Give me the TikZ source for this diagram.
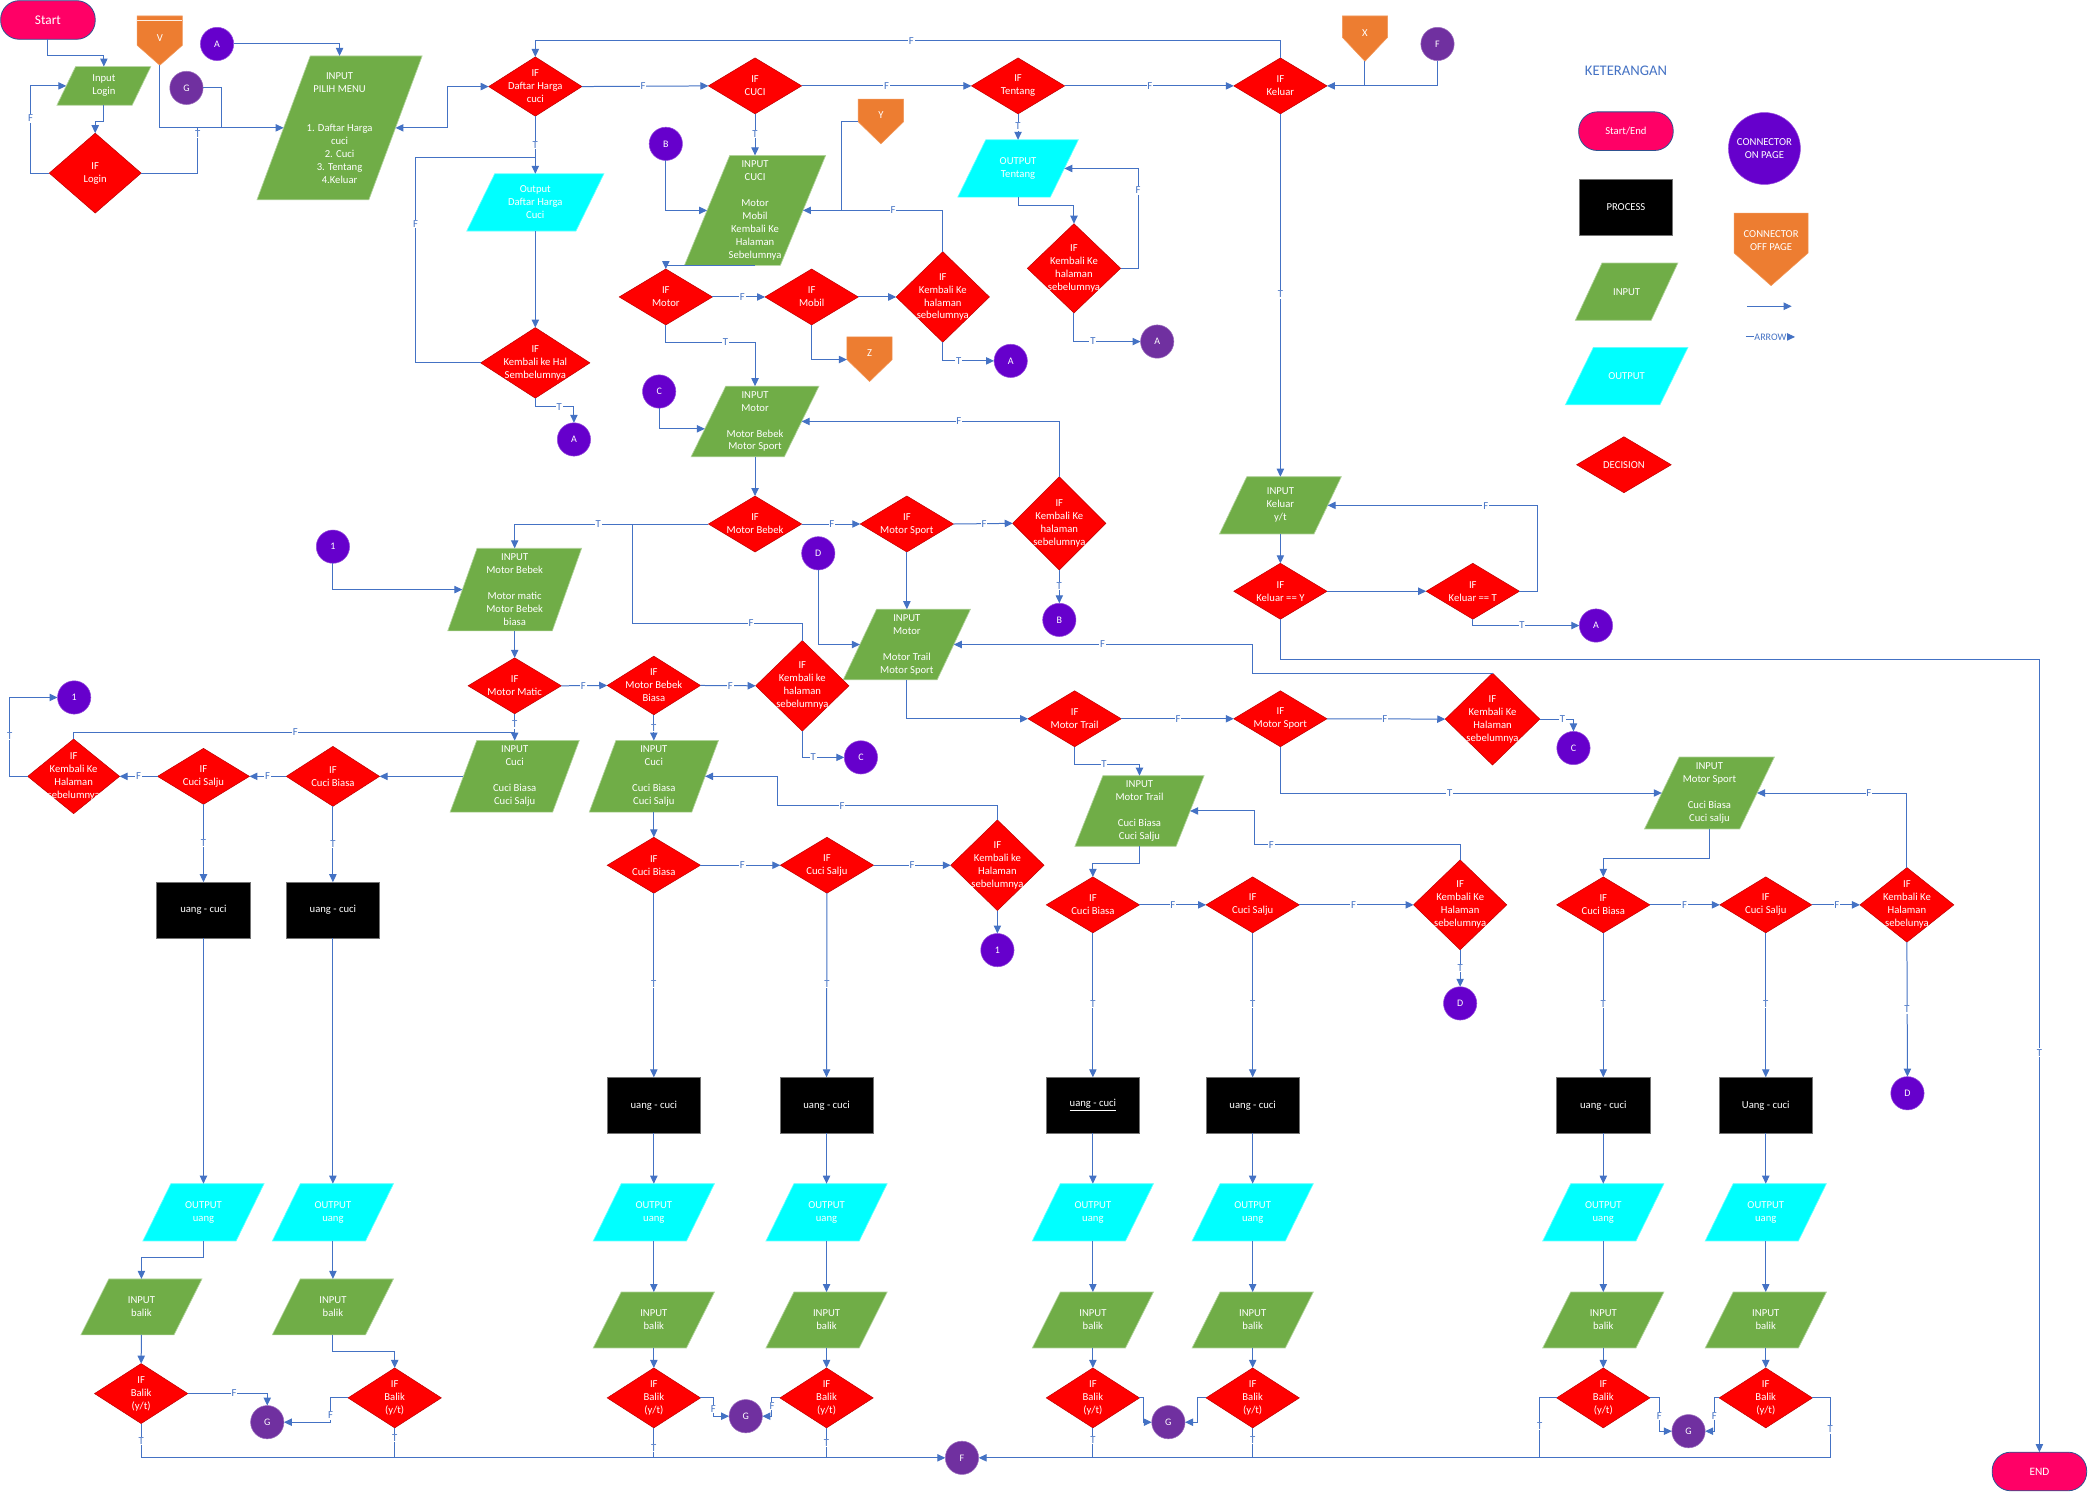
\documentclass[tikz,border=0pt]{standalone}
\usepackage{fontspec}
\setmainfont{Carlito}
\usetikzlibrary{arrows.meta,backgrounds}
\definecolor{lineblue}{HTML}{4472C4}
\definecolor{pinkt}{HTML}{FF0066}
\definecolor{ingreen}{HTML}{70AD47}
\definecolor{outcyan}{HTML}{00FFFF}
\definecolor{decred}{HTML}{FF0000}
\definecolor{convio}{HTML}{6600CC}
\definecolor{conpur}{HTML}{7030A0}
\definecolor{offorange}{HTML}{ED7D31}
\definecolor{termedge}{HTML}{2F528F}
\tikzset{
  nfont/.style={font=\fontsize{8}{9.75}\selectfont},
  txt/.style={nfont, align=center, text=white, inner sep=0pt, outer sep=0pt},
  shbox/.style 2 args={txt, rectangle, minimum width=#1, minimum height=#2},
  infill/.style={fill=ingreen, draw=ingreen!55!white, line width=0.5pt},
  outfill/.style={fill=outcyan, draw=outcyan!60!white, line width=0.5pt},
  decfill/.style={fill=decred, draw=decred!75!black, line width=0.4pt},
  offfill/.style={fill=offorange, draw=offorange!80!white, line width=0.4pt},
  term/.style={shbox={71}{29}, rounded corners=14pt, fill=pinkt, draw=termedge, line width=0.6pt},
  proc/.style={shbox={70}{42}, fill=black, draw=black!55, line width=0.6pt},
  conn/.style={txt, circle, minimum size=25, font=\fontsize{7.5}{9}\selectfont, draw=#1!70!white, fill=#1, line width=0.4pt},
  ln/.style={draw=lineblue, line width=0.75pt},
  ar/.style={ln, -{Triangle[length=6pt,width=5.5pt]}},
  arr2/.style={ln, {Triangle[length=6pt,width=5.5pt]}-{Triangle[length=6pt,width=5.5pt]}},
  lb/.style={fill=white, inner sep=0.6pt, text=lineblue, font=\fontsize{8}{9}\selectfont},
}
% parallelogram: style, name, position, width, height, slant, text
\newcommand{\pgm}[7]{%
  \node[shbox={#4}{#5}] (#2) at (#3) {#7};
  \begin{scope}[on background layer]
    \path[#1] ([xshift=#6/2]#2.north west) -- ([xshift=#6/2]#2.north east)
      -- ([xshift=-#6/2]#2.south east) -- ([xshift=-#6/2]#2.south west) -- cycle;
  \end{scope}}
% decision: name, position, width, height, text
\newcommand{\dia}[5]{%
  \node[shbox={#3}{#4}] (#1) at (#2) {#5};
  \begin{scope}[on background layer]
    \path[decfill] (#1.north) -- (#1.east) -- (#1.south) -- (#1.west) -- cycle;
  \end{scope}}
% off-page: name, cx, ytop, width, rect height, tip height, text offset, text
\newcommand{\offp}[8]{%
  \node[shbox={#4}{#5}] (#1) at (#2,{#3+#5/2}) {};
  \coordinate (#1tip) at (#2,{#3+#5+#6});
  \begin{scope}[on background layer]
    \path[offfill] (#1.north west) -- (#1.north east) -- (#1.south east) -- (#1tip) -- (#1.south west) -- cycle;
  \end{scope}
  \node[txt] (#1txt) at (#2,{#3+#7}) {#8};}
\begin{document}
\begin{tikzpicture}[x=1pt,y=-1pt]
\begin{scope}[on background layer]
\fill[white] (0,0) rectangle (1568,1120);
\end{scope}
\useasboundingbox (0,0) rectangle (1568,1120);

% ---------- top part ----------
\node[term, font=\fontsize{10}{12}\selectfont] (start) at (36,15) {Start};
\offp{oV}{120}{12}{34}{22}{15}{16.5}{V}
\draw[white!85!offorange, line width=0.6pt] ([yshift=-3pt]oV.north west) -- ([yshift=-3pt]oV.north east);
\node[conn=convio] (cA1) at (163,33) {A};
\node[conn=conpur] (cG0) at (140,66) {G};
\pgm{infill}{pLogin}{78,64.5}{56.5}{29}{14}{Input\\Login}
\dia{dLogin}{71.5,130}{69}{60}{IF\\Login}
\pgm{infill}{pMenu}{255,96}{84}{108}{40}{INPUT\\PILIH MENU\\~\\~\\1. Daftar Harga\\cuci\\2. Cuci\\3. Tentang\\4.Keluar}
\dia{dDaftar}{402,65}{70}{44.5}{IF\\Daftar Harga\\cuci}
\pgm{outfill}{pOutDaftar}{402,152}{82}{43}{21}{Output\\Daftar Harga\\Cuci}
\dia{dKembHal}{402,272.5}{82}{53}{IF\\Kembali ke Hal\\Sembelumnya}
\node[conn=convio] (cA2) at (431,330) {A};
\dia{dCuci}{567,64.5}{70}{42}{IF\\CUCI}
\dia{dTentang}{764.5,64.5}{70}{42}{IF\\Tentang}
\dia{dKeluar}{961.5,64.5}{70}{42}{IF\\Keluar}
\offp{oX}{1025}{12}{34}{16}{18}{12.5}{X}
\node[conn=conpur] (cF1) at (1079.5,33) {F};
\node[conn=convio] (cB1) at (500,108) {B};
\pgm{infill}{pCuci}{567,158}{72}{82.5}{34}{INPUT\\CUCI\\~\\Motor\\Mobil\\Kembali Ke\\Halaman\\Sebelumnya}
\offp{oY}{661.5}{74.5}{34}{17}{16.5}{12}{Y}
\pgm{outfill}{pOutTentang}{764.5,126.5}{69.5}{43}{21}{OUTPUT\\Tentang}
\dia{dKembT}{806.5,201.5}{70}{67}{IF\\Kembali Ke\\halaman\\sebelumnya}
\node[conn=conpur] (cA4) at (869,256.5) {A};
\dia{dMotor}{500,223}{70}{42}{IF\\Motor}
\dia{dMobil}{609.5,223}{70}{42}{IF\\Mobil}
\dia{dKemb1}{708,223}{70}{68}{IF\\Kembali Ke\\halaman\\sebelumnya}
\node[conn=convio] (cA3) at (759,271) {A};
\offp{oZ}{653}{253}{34}{17}{16.5}{12}{Z}
\node[conn=convio] (cC1) at (495,294) {C};
\pgm{infill}{pMotor}{567,316.5}{70}{53}{26}{INPUT\\Motor\\~\\Motor Bebek\\Motor Sport}
\dia{dBebek}{567,393.5}{70}{42}{IF\\Motor Bebek}
\dia{dSport1}{681,393.5}{70}{42}{IF\\Motor Sport}
\dia{dKemb2}{795.5,393}{70}{70}{IF\\Kembali Ke\\halaman\\sebelumnya}
\node[conn=convio] (cB2) at (795.5,465.5) {B};
\node[conn=convio] (cD1) at (614.5,415.5) {D};
\pgm{infill}{pMotorT}{681,484}{70.5}{53}{25}{INPUT\\Motor\\~\\Motor Trail\\Motor Sport}
\node[conn=convio] (c1a) at (250,410.5) {1};
\pgm{infill}{pBebek}{386.5,442.75}{78.5}{62}{22}{INPUT\\Motor Bebek\\~\\Motor matic\\Motor Bebek\\biasa}
\dia{dMatic}{386.5,515}{70}{42}{IF\\Motor Matic}
\dia{dBBiasa}{491,514.75}{70}{44}{IF\\Motor Bebek\\Biasa}
\dia{dKemb3}{602.5,515}{70}{68}{IF\\Kembali ke\\halaman\\sebelumnya}
\node[conn=convio] (cC2) at (646.5,568.75) {C};
\pgm{infill}{pCuci1}{386.5,583}{77}{53.75}{20}{INPUT\\Cuci\\~\\Cuci Biasa\\Cuci Salju}
\pgm{infill}{pCuci2}{491,583}{77}{53.75}{20}{INPUT\\Cuci\\~\\Cuci Biasa\\Cuci Salju}
\dia{dCB1}{250,583}{70}{45}{IF\\Cuci Biasa}
\dia{dCS1}{152.8,583}{69}{42}{IF\\Cuci Salju}
\dia{dKemb5}{55.3,583}{69}{56}{IF\\Kembali Ke\\Halaman\\sebelumnya}
\node[conn=convio] (c1b) at (55.7,523.75) {1};
\node[proc] (pr1) at (152.8,683.5) {uang - cuci};
\node[proc] (pr2) at (250,683.5) {uang - cuci};
\dia{dCB2}{491,649.75}{70}{42}{IF\\Cuci Biasa}
\dia{dCS2}{621,649.75}{70}{42}{IF\\Cuci Salju}
\dia{dKemb6}{749,649.75}{70}{68}{IF\\Kembali ke\\Halaman\\sebelumnya}
\node[conn=convio] (c1c) at (749,713.5) {1};
\dia{dTrail}{807,539.75}{70}{42}{IF\\Motor Trail}
\dia{dSport2}{961.5,539.75}{70}{42}{IF\\Motor Sport}
\dia{dKemb4}{1120.8,540}{71}{69}{IF\\Kembali Ke\\Halaman\\sebelumnya}
\node[conn=convio] (cC3) at (1181.6,561.75) {C};
\pgm{infill}{pTrail}{855.7,609}{76}{53}{21}{INPUT\\Motor Trail\\~\\Cuci Biasa\\Cuci Salju}
\dia{dCB3}{820.7,679.5}{70}{42}{IF\\Cuci Biasa}
\dia{dCS3}{940.7,679.5}{70}{42}{IF\\Cuci Salju}
\dia{dKemb7}{1096.5,679.5}{70}{67.5}{IF\\Kembali Ke\\Halaman\\sebelumnya}
\node[conn=convio] (cD2) at (1096.5,753.5) {D};
\pgm{infill}{pSport}{1283.7,595.5}{71.5}{54}{26}{INPUT\\Motor Sport\\~\\Cuci Biasa\\Cuci salju}
\dia{dCB4}{1204,679.5}{70}{42}{IF\\Cuci Biasa}
\dia{dCS4}{1326,679.5}{69}{42}{IF\\Cuci Salju}
\dia{dKemb8}{1432,679.5}{70.5}{56}{IF\\Kembali Ke\\Halaman\\sebelunya}
\node[conn=convio] (cD3) at (1432.4,821) {D};
\pgm{infill}{pKeluar}{961.5,379.5}{71}{43}{20.5}{INPUT\\Keluar\\y/t}
\dia{dKeluarY}{961.5,444}{70}{42}{IF\\Keluar == Y}
\dia{dKeluarT}{1106,444}{70}{42}{IF\\Keluar == T}
\node[conn=convio] (cA5) at (1198.5,469.75) {A};
\node[term, font=\fontsize{8.5}{10}\selectfont] (endn) at (1531.5,1105) {END};

% ---------- bottom columns ----------
\node[proc] (pr3) at (491,830) {uang - cuci};
\node[proc] (pr4) at (620.7,830) {uang - cuci};
\node[proc] (pr5) at (820.7,830) {\underline{uang - cuci}};
\node[proc] (pr6) at (940.7,830) {uang - cuci};
\node[proc] (pr7) at (1204,830) {uang - cuci};
\node[proc] (pr8) at (1326,830) {Uang - cuci};
\foreach \i/\x in {1/152.8,2/250,3/491,4/620.7,5/820.7,6/940.7,7/1204,8/1326}{
  \pgm{outfill}{pO\i}{\x,910.4}{70}{43}{21}{OUTPUT\\uang}
}
\pgm{infill}{pI1}{106.2,981.4}{70}{42}{21}{INPUT\\balik}
\pgm{infill}{pI2}{250,981.4}{70}{42}{21}{INPUT\\balik}
\foreach \i/\x in {3/491,4/620.7,5/820.7,6/940.7,7/1204,8/1326}{
  \pgm{infill}{pI\i}{\x,991.25}{70}{42}{21}{INPUT\\balik}
}
\dia{dB1}{106,1046.5}{70}{45}{IF\\Balik\\(y/t)}
\dia{dB2}{296.4,1049.75}{70}{45}{IF\\Balik\\(y/t)}
\foreach \i/\x in {3/491,4/620.7,5/820.7,6/940.7,7/1204,8/1326}{
  \dia{dB\i}{\x,1049.75}{70}{45}{IF\\Balik\\(y/t)}
}
\node[conn=conpur] (cG1) at (200.7,1068) {G};
\node[conn=conpur] (cG2) at (560,1063.5) {G};
\node[conn=conpur] (cG3) at (877.4,1068) {G};
\node[conn=conpur] (cG4) at (1268,1074.75) {G};
\node[conn=conpur] (cF2) at (722.4,1094.75) {F};

% ---------- legend ----------
\node[font=\fontsize{11}{13}\selectfont, text=lineblue] (ket) at (1221,53) {KETERANGAN};
\node[term, nfont] (lgTerm) at (1221,98.5) {Start/End};
\node[conn=convio, minimum size=54, nfont] (lgConn) at (1325,111.5) {CONNECTOR\\ON PAGE};
\node[proc] (lgProc) at (1221,155.5) {PROCESS};
\offp{lgOff}{1330}{160}{55.5}{30}{24.5}{21}{CONNECTOR\\OFF PAGE}
\pgm{infill}{lgIn}{1221.5,219}{57}{43}{20}{INPUT}
\pgm{outfill}{lgOut}{1221.5,282.5}{71}{43}{21}{OUTPUT}
\dia{lgDec}{1219.5,349}{71}{42}{DECISION}
\coordinate (la1) at (1312,230);
\coordinate (la2) at (1345.5,230);
\draw[ar] (la1) -- (la2);
\coordinate (lb1) at (1311,253);
\coordinate (lb2) at (1348,253);
\draw[ar] (lb1) -- node[lb, inner sep=0.3pt, font=\fontsize{7.5}{9}\selectfont] (arrowtxt) {ARROW} (lb2);

% ---------- connectors ----------
\draw[ar] (start.south) -- (36,41.5) -| (pLogin.north);
\draw[ar] (pLogin.south) -- (78,91.5) -| (dLogin.north);
\draw[ar] (dLogin.west) -- (23,130) -- (23,64.5) -- (pLogin.west);
\draw[ln] (dLogin.east) -- (148.5,130) -- (148.5,96);
\draw[ar] (oVtip) -- (120,96) -- (pMenu.west);
\draw[ln] (cG0.east) -- (166,66) -- (166,96);
\draw[ar] (cA1.east) -- (255,33) -- (pMenu.north);
\draw[arr2] (pMenu.east) -- (336,96) -- (336,65) -- (dDaftar.west);
\draw[ar] (dKeluar.north) -- (961.5,30.5) -- (402,30.5) -- (dDaftar.north);
\draw[ar] (dDaftar.east) -- (dCuci.west);
\draw[ar] (dCuci.east) -- (dTentang.west);
\draw[ar] (dTentang.east) -- (dKeluar.west);
\draw[ar] (oXtip) -- (1025,64.5) -- (dKeluar.east);
\draw[ln] (cF1.south) -- (1079.5,64.5) -- (1025,64.5);
\draw[ar] (dDaftar.south) -- (pOutDaftar.north);
\draw[ln] (dKembHal.west) -- (312,272.5) -- (312,118) -- (402,118);
\draw[ar] (pOutDaftar.south) -- (dKembHal.north);
\draw[ar] (dKembHal.south) -- (402,305.5) -- (431,305.5) -- (cA2.north);
\draw[ar] (cB1.south) |- (pCuci.west);
\draw[ar] (dCuci.south) -- (pCuci.north);
\draw[ar] (oY.south west) -- (631.7,91.5) -- (631.7,158) -- (pCuci.east);
\draw[ln] (dKemb1.north) -- (708,158) -- (631.7,158);
\draw[ar] (pCuci.south) -| (dMotor.north);
\draw[ar] (dMotor.east) -- (dMobil.west);
\draw[ar] (dMobil.east) -- (dKemb1.west);
\draw[ar] (dKemb1.south) |- (cA3.west);
\draw[ar] (dMobil.south) |- (oZ.south west);
\draw[ar] (dMotor.south) -- (500,257) -| (pMotor.north);
\draw[ar] (cC1.south) |- ([xshift=-2.7pt,yshift=-5.5pt]pMotor.west);
\draw[ar] (dKemb2.north) |- (pMotor.east);
\draw[ar] (pMotor.south) -- (dBebek.north);
\draw[ar] (dBebek.east) -- (dSport1.west);
\draw[ar] (dSport1.east) -- (dKemb2.west);
\draw[ar] (dKemb2.south) -- (cB2.north);
\draw[ar] (dSport1.south) -- (pMotorT.north);
\draw[ar] (cD1.south) |- (pMotorT.west);
\draw[ar] (dBebek.west) -| (pBebek.north);
\draw[ln] (dKemb3.north) -- (602.5,468) -- (475,468) -- (475,393.5);
\draw[ar] (c1a.south) |- (pBebek.west);
\draw[ar] (pBebek.south) -- (dMatic.north);
\draw[ar] (dMatic.east) -- (dBBiasa.west);
\draw[ar] (dBBiasa.east) -- (dKemb3.west);
\draw[ar] (dKemb3.south) |- (cC2.west);
\draw[ar] (dMatic.south) -- (pCuci1.north);
\draw[ln] (dKemb5.north) -- (55.3,549.75) -- (386.5,549.75);
\draw[ar] (pCuci1.west) -- (dCB1.east);
\draw[ar] (dCB1.west) -- (dCS1.east);
\draw[ar] (dCS1.west) -- (dKemb5.east);
\draw[ar] (dKemb5.west) -- (7.3,583) |- (c1b.west);
\draw[ar] (dCB1.south) -- (pr2.north);
\draw[ar] (dCS1.south) -- (pr1.north);
\draw[ar] (dBBiasa.south) -- (pCuci2.north);
\draw[ar] (pCuci2.south) -- (dCB2.north);
\draw[ar] (dKemb6.north) -- (749,605) -- (584,605) |- (pCuci2.east);
\draw[ar] (dCB2.east) -- (dCS2.west);
\draw[ar] (dCS2.east) -- (dKemb6.west);
\draw[ar] (dKemb6.south) -- (c1c.north);
\draw[ar] (dCB2.south) -- (pr3.north);
\draw[ar] (dCS2.south) -- (pr4.north);
\draw[ar] (pMotorT.south) |- (dTrail.west);
\draw[ar] (dTrail.east) -- (dSport2.west);
\draw[ar] (dSport2.east) -- (dKemb4.west);
\draw[ar] (dKemb4.north) -- (940.7,505.5) |- (pMotorT.east);
\draw[ar] (dKemb4.east) -| (cC3.north);
\draw[ar] (dTrail.south) -- (807,573.75) -| (pTrail.north);
\draw[ar] (pTrail.south) -- (855.7,648.75) -| (dCB3.north);
\draw[ar] (dCB3.east) -- (dCS3.west);
\draw[ar] (dCS3.east) -- (dKemb7.west);
\draw[ar] (dKemb7.north) -- (1096.5,634.25) -- (941.7,634.25) |- (pTrail.east);
\draw[ar] (dKemb7.south) -- (cD2.north);
\draw[ar] (dCB3.south) -- (pr5.north);
\draw[ar] (dCS3.south) -- (pr6.north);
\draw[ar] (dSport2.south) |- (pSport.west);
\draw[ar] (pSport.south) -- (1283.7,645) -| (dCB4.north);
\draw[ar] (dCB4.east) -- (dCS4.west);
\draw[ar] (dCS4.east) -- (dKemb8.west);
\draw[ar] (dKemb8.north) |- (pSport.east);
\draw[ar] (dKemb8.south) -- (cD3.north);
\draw[ar] (dCB4.south) -- (pr7.north);
\draw[ar] (dCS4.south) -- (pr8.north);
\draw[ar] (dKeluar.south) -- (pKeluar.north);
\draw[ar] (pKeluar.south) -- (dKeluarY.north);
\draw[ar] (dKeluarY.east) -- (dKeluarT.west);
\draw[ar] (dKeluarT.east) -- (1154.6,444) |- (pKeluar.east);
\draw[ar] (dKeluarT.south) |- (cA5.west);
\draw[ar] (dKeluarY.south) -- (961.5,495) -| (endn.north);
\draw[ar] (dTentang.south) -- (pOutTentang.north);
\draw[ar] (pOutTentang.south) -- (764.5,154) -| (dKembT.north);
\draw[ar] (dKembT.east) -- (854.7,201.5) |- (pOutTentang.east);
\draw[ar] (dKembT.south) |- (cA4.west);
% bottom
\foreach \i in {1,...,8}{\draw[ar] (pr\i.south) -- (pO\i.north);}
\draw[ar] (pO1.south) -- (152.8,944.25) -| (pI1.north);
\draw[ar] (pO2.south) -- (pI2.north);
\foreach \i in {3,...,8}{\draw[ar] (pO\i.south) -- (pI\i.north);}
\draw[ar] (pI1.south) -- (dB1.north);
\draw[ar] (pI2.south) -- (250,1015.25) -| (dB2.north);
\foreach \i in {3,...,8}{\draw[ar] (pI\i.south) -- (dB\i.north);}
\draw[ar] (dB1.east) -| (cG1.north);
\draw[ar] (dB2.west) -- (248.3,1049.75) |- (cG1.east);
\draw[ar] (dB1.south) |- (cF2.west);
\draw[ln] (dB2.south) -- (296.4,1094.75);
\draw[ln] (dB3.south) -- (491,1094.75);
\draw[ln] (dB4.south) -- (620.7,1094.75);
\draw[ar] (dB3.east) -- (535.7,1049.75) |- (cG2.west);
\draw[ar] (dB4.west) -- (579.7,1049.75) |- (cG2.east);
\draw[ar] (dB5.east) -- (859,1049.75) |- (cG3.west);
\draw[ar] (dB6.west) -- (899,1049.75) |- (cG3.east);
\draw[ln] (dB5.south) -- (820.7,1094.75);
\draw[ln] (dB6.south) -- (940.7,1094.75);
\draw[ln] (dB7.west) -- (1156.3,1049.75) -- (1156.3,1094.75);
\draw[ar] (dB8.east) -- (1374.4,1049.75) |- (cF2.east);
\draw[ar] (dB7.east) -- (1246,1049.75) |- (cG4.west);
\draw[ar] (dB8.west) -- (1287.4,1049.75) |- (cG4.east);

% ---------- connector labels ----------
\node[lb] (lF1) at (23,89) {F};
\node[lb] (lT1) at (148.5,100.5) {T};
\node[lb] (lF2) at (483,65) {F};
\node[lb] (lF3) at (665.7,64.5) {F};
\node[lb] (lF4) at (863.4,64.5) {F};
\node[lb] (lF5) at (684.4,30.5) {F};
\node[lb] (lT2) at (402,109) {T};
\node[lb] (lF6) at (312,168) {F};
\node[lb] (lT3) at (420,305.5) {T};
\node[lb] (lT4) at (567,100.5) {T};
\node[lb] (lF7) at (670.7,158) {F};
\node[lb] (lF8) at (557.4,223) {F};
\node[lb] (lT5) at (720,271) {T};
\node[lb] (lT6) at (544.7,257) {T};
\node[lb] (lF9) at (720,316.5) {F};
\node[lb] (lT7) at (764.5,95) {T};
\node[lb] (lF10) at (854.7,143) {F};
\node[lb] (lT8) at (820.7,256.5) {T};
\node[lb] (lT9) at (961.5,221) {T};
\node[lb] (lF11) at (624.7,393.5) {F};
\node[lb] (lF12) at (739,393.5) {F};
\node[lb] (lT10) at (795.5,440) {T};
\node[lb] (lT11) at (449.3,393.5) {T};
\node[lb] (lF13) at (564,468) {F};
\node[lb] (lF14) at (438,515) {F};
\node[lb] (lF15) at (548.4,515) {F};
\node[lb] (lT12) at (610.7,568.75) {T};
\node[lb] (lT13) at (386.5,544) {T};
\node[lb] (lF16) at (221.7,549.75) {F};
\node[lb] (lF17) at (201,583) {F};
\node[lb] (lF18) at (104,583) {F};
\node[lb] (lT14) at (7.3,552.5) {T};
\node[lb] (lT15) at (250,633.75) {T};
\node[lb] (lT16) at (152.8,633) {T};
\node[lb] (lT17) at (491,546.75) {T};
\node[lb] (lF19) at (632.4,605) {F};
\node[lb] (lF20) at (557.4,649.75) {F};
\node[lb] (lF21) at (685,649.75) {F};
\node[lb] (lT18) at (491,739) {T};
\node[lb] (lT19) at (621,739) {T};
\node[lb] (lF22) at (884.7,539.75) {F};
\node[lb] (lF23) at (1040,539.75) {F};
\node[lb] (lF24) at (828,484) {F};
\node[lb] (lT20) at (1173.4,540) {T};
\node[lb] (lT21) at (829,573.75) {T};
\node[lb] (lF25) at (880.7,679.5) {F};
\node[lb] (lF26) at (1016.4,679.5) {F};
\node[lb] (lF27) at (954.7,634.25) {F};
\node[lb] (lT22) at (1096.5,726.75) {T};
\node[lb] (lT23) at (820.7,754) {T};
\node[lb] (lT24) at (940.7,754) {T};
\node[lb] (lT25) at (1088.7,595.5) {T};
\node[lb] (lF28) at (1265,679.5) {F};
\node[lb] (lF29) at (1379.3,679.5) {F};
\node[lb] (lF30) at (1403.4,595.5) {F};
\node[lb] (lT26) at (1432,758) {T};
\node[lb] (lT27) at (1204,754) {T};
\node[lb] (lT28) at (1326,754) {T};
\node[lb] (lF31) at (1115.7,380) {F};
\node[lb] (lT29) at (1143,469.75) {T};
\node[lb] (lT30) at (1531.5,790.5) {T};
\node[lb] (lF32) at (175.7,1046.5) {F};
\node[lb] (lF33) at (248.3,1063) {F};
\node[lb] (lT31) at (106,1082.25) {T};
\node[lb] (lT32) at (296.4,1079.75) {T};
\node[lb] (lT33) at (491,1087.25) {T};
\node[lb] (lT34) at (620.7,1083.5) {T};
\node[lb] (lF34) at (535.7,1058) {F};
\node[lb] (lF35) at (579.7,1056) {F};
\node[lb] (lT35) at (820.7,1081.5) {T};
\node[lb] (lT36) at (940.7,1081.5) {T};
\node[lb] (lT37) at (1156.3,1071) {T};
\node[lb] (lT38) at (1374.4,1073.5) {T};
\node[lb] (lF36) at (1246,1063.5) {F};
\node[lb] (lF37) at (1287.4,1063.5) {F};
\end{tikzpicture}
\end{document}
